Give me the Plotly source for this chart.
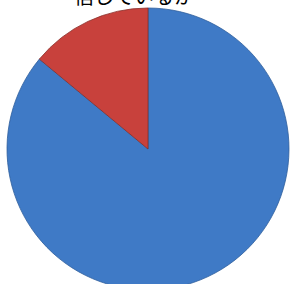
import plotly.graph_objects as go

labels = ["信じている", "信じていない"]
values = [86, 14]
colors = ["#3F7AC6", "#C8413C"]
edge_colors = ["#2F5E9C", "#8A2E2A"]
title_text = "信じているか"

W, H = 290, 290
fig = go.Figure(go.Pie(
    labels=labels,
    values=values,
    marker=dict(colors=colors, line=dict(color=edge_colors, width=0.8)),
    textinfo="none",
    hoverinfo="label+percent",
    sort=False,
    direction="clockwise",
    rotation=0,
    domain=dict(x=[7 / W, 289 / W], y=[0, 282 / H]),
    showlegend=False,
))

fig.add_annotation(
    text=title_text, x=133.5 / W, y=(H - 12) / H, xref="paper", yref="paper",
    xanchor="center", yanchor="bottom", showarrow=False,
    font=dict(family="Noto Sans CJK JP", size=20, color="black"),
)

fig.update_layout(
    width=W, height=H,
    margin=dict(l=0, r=0, t=0, b=0),
    paper_bgcolor="white", plot_bgcolor="white",
)

fig.write_html(
    "out.html",
    config={"displayModeBar": False},
    post_script="document.body.style.margin='0';document.body.style.overflow='hidden';",
)
